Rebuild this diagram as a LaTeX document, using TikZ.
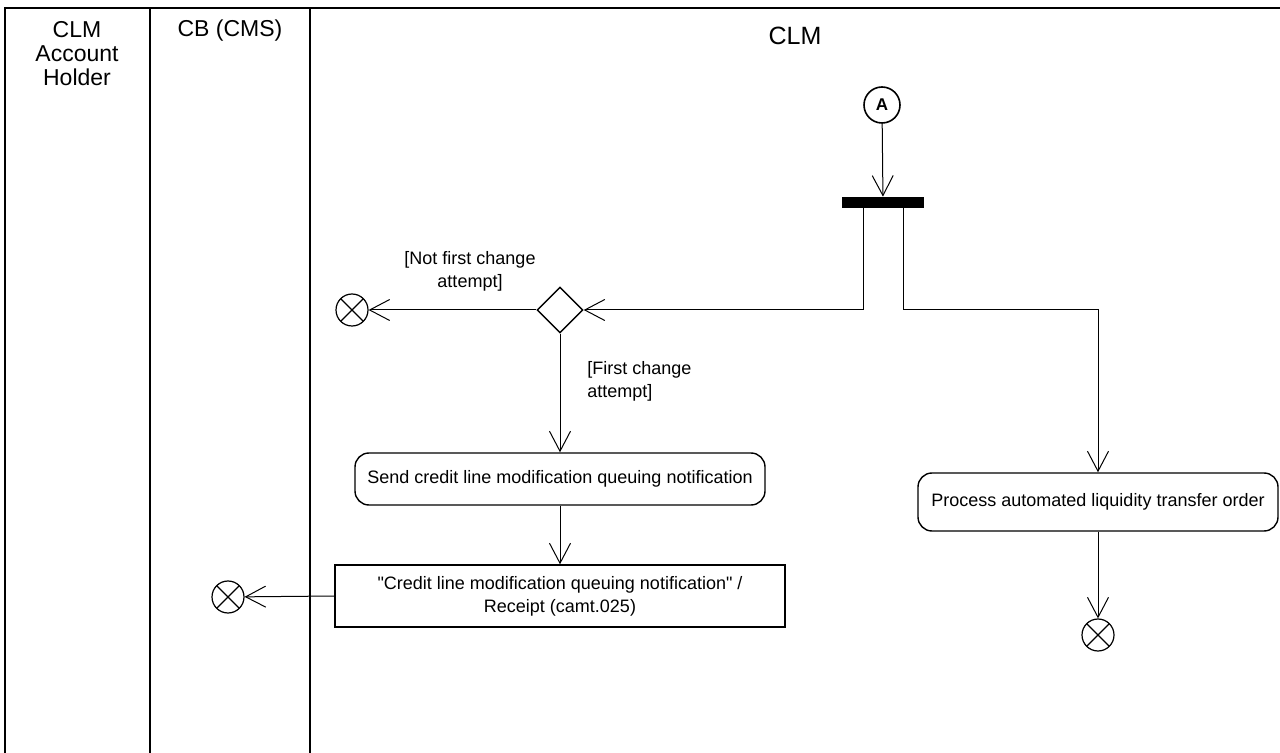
\documentclass[tikz,border=0pt]{standalone}
\usepackage{fontspec}
\setmainfont{Liberation Sans}[Ligatures=TeXOff]
\usetikzlibrary{arrows.meta,shapes.geometric}
\tikzset{
  lane/.style={line width=1pt},
  conn/.style={line width=0.5pt},
  arr/.style={conn,-{Straight Barb[length=10pt,width=10.5pt,line width=0.5pt]}},
  body/.style={font=\fontsize{9}{11.5}\selectfont},
  head/.style={font=\fontsize{11.5}{12}\selectfont,align=center},
  action/.style={draw,line width=0.7pt,rounded corners=7pt,body,align=center},
  objbox/.style={draw,line width=0.7pt,body,align=center},
  endnode/.style={draw,circle,line width=0.6pt,minimum size=16pt,inner sep=0pt,
    path picture={\draw[line width=0.6pt] (path picture bounding box.north west) -- (path picture bounding box.south east)
      (path picture bounding box.north east) -- (path picture bounding box.south west);}},
  guard/.style={body,inner sep=0pt}
}
\begin{document}
\begin{tikzpicture}[x=0.5pt,y=-0.5pt]
\useasboundingbox (0,0) rectangle (1280,753);
% swimlanes
\draw[lane] (1280,8) -- (5,8) -- (5,753);
\draw[lane] (150,8) -- (150,753);
\draw[lane] (310,8) -- (310,753);
\node[head] (h1) at (77,54) {CLM\\Account\\Holder};
\node[head] (h2) at (230,31) {CB (CMS)};
\node[font=\fontsize{12.5}{14}\selectfont] (h3) at (795,36) {CLM};
% nodes
\node[draw,circle,line width=0.8pt,minimum size=18pt,inner sep=0pt,font=\fontsize{8.5}{9}\selectfont\bfseries] (A) at (882,105) {A};
\node[fill=black,minimum width=41pt,minimum height=5.5pt,inner sep=0pt] (bar) at (883,202.5) {};
\node[draw,diamond,line width=0.7pt,minimum width=23pt,minimum height=23pt,inner sep=0pt] (dia) at (560,310) {};
\node[endnode] (e1) at (352,310) {};
\node[action,minimum width=205pt,minimum height=26pt] (send) at (560,479) {Send credit line modification queuing notification};
\node[objbox,minimum width=225pt,minimum height=31pt] (msg) at (560,596) {"Credit line modification queuing notification" /\\Receipt (camt.025)};
\node[endnode] (e2) at (228,597) {};
\node[action,minimum width=180pt,minimum height=29pt] (proc) at (1098,502) {Process automated liquidity transfer order};
\node[endnode] (e3) at (1098,635) {};
\coordinate (j) at (1098,310);
% guards
\node[guard,align=center] (g1) at (470,271) {[Not first change\\attempt]};
\node[guard,align=left,anchor=west] (g2) at (587,381) {[First change\\attempt]};
% connectors
\draw[arr] (A) -- (bar);
\draw[arr] ([xshift=-10pt]bar.south) |- (dia.east);
\draw[arr] ([xshift=10pt]bar.south) |- (j) -- (proc.north);
\draw[arr] (dia.west) -- (e1);
\draw[arr] (dia.south) -- (send.north);
\draw[arr] (send.south) -- (msg.north);
\draw[arr] (msg.west) -- (e2);
\draw[arr] (proc.south) -- (e3);
\end{tikzpicture}
\end{document}
